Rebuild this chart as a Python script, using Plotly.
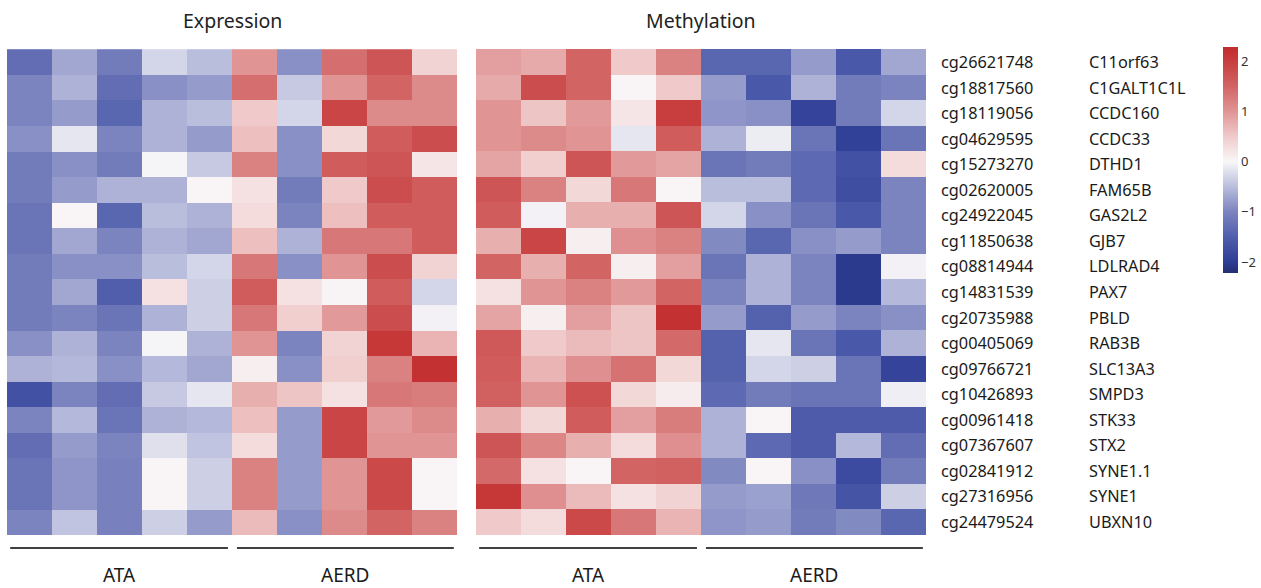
import plotly.graph_objects as go

samples = ["ATA1", "ATA2", "ATA3", "ATA4", "ATA5", "AERD1", "AERD2", "AERD3", "AERD4", "AERD5"]
probes = ["cg26621748", "cg18817560", "cg18119056", "cg04629595", "cg15273270", "cg02620005",
          "cg24922045", "cg11850638", "cg08814944", "cg14831539", "cg20735988", "cg00405069",
          "cg09766721", "cg10426893", "cg00961418", "cg07367607", "cg02841912", "cg27316956",
          "cg24479524"]
genes = ["C11orf63", "C1GALT1C1L", "CCDC160", "CCDC33", "DTHD1", "FAM65B", "GAS2L2", "GJB7",
         "LDLRAD4", "PAX7", "PBLD", "RAB3B", "SLC13A3", "SMPD3", "STK33", "STX2", "SYNE1.1",
         "SYNE1", "UBXN10"]

expression = [
    [-1.3, -0.7, -1.1, -0.3, -0.5, 1.0, -0.9, 1.4, 1.7, 0.4],
    [-1.0, -0.6, -1.3, -0.9, -0.8, 1.4, -0.4, 1.0, 1.5, 1.1],
    [-1.0, -0.8, -1.4, -0.6, -0.5, 0.5, -0.3, 1.9, 1.1, 1.1],
    [-0.9, -0.15, -1.0, -0.6, -0.8, 0.6, -0.9, 0.35, 1.6, 1.8],
    [-1.1, -0.9, -1.1, -0.03, -0.4, 1.2, -0.9, 1.6, 1.7, 0.2],
    [-1.1, -0.8, -0.6, -0.6, 0.02, 0.25, -1.1, 0.5, 1.8, 1.6],
    [-1.2, 0.02, -1.4, -0.5, -0.6, 0.3, -1.0, 0.6, 1.6, 1.6],
    [-1.2, -0.7, -1.0, -0.6, -0.7, 0.6, -0.6, 1.3, 1.3, 1.6],
    [-1.1, -0.9, -0.9, -0.5, -0.3, 1.3, -0.9, 1.0, 1.8, 0.4],
    [-1.1, -0.7, -1.5, 0.25, -0.35, 1.6, 0.25, 0.03, 1.6, -0.3],
    [-1.1, -1.0, -1.2, -0.6, -0.35, 1.3, 0.45, 0.95, 1.8, -0.05],
    [-0.9, -0.6, -1.0, -0.03, -0.6, 1.0, -1.0, 0.4, 2.1, 0.7],
    [-0.6, -0.55, -0.9, -0.55, -0.7, 0.1, -0.9, 0.45, 1.2, 2.2],
    [-1.7, -1.0, -1.3, -0.4, -0.15, 0.75, 0.55, 0.25, 1.3, 1.25],
    [-1.0, -0.55, -1.2, -0.6, -0.55, 0.6, -0.8, 1.9, 0.95, 1.1],
    [-1.3, -0.8, -1.0, -0.2, -0.45, 0.3, -0.8, 1.9, 1.0, 1.0],
    [-1.2, -0.85, -1.05, 0.02, -0.35, 1.2, -0.8, 1.0, 1.85, 0.02],
    [-1.2, -0.85, -1.05, 0.02, -0.35, 1.2, -0.8, 1.0, 1.85, 0.02],
    [-1.0, -0.45, -1.05, -0.35, -0.8, 0.65, -0.9, 1.1, 1.5, 1.2],
]

methylation = [
    [0.9, 0.8, 1.5, 0.5, 1.2, -1.4, -1.4, -0.8, -1.6, -0.7],
    [0.8, 1.8, 1.5, 0.02, 0.5, -0.8, -1.6, -0.6, -1.1, -1.0],
    [1.0, 0.55, 0.95, 0.2, 2.0, -0.85, -0.9, -1.9, -1.1, -0.3],
    [1.0, 1.1, 1.0, -0.15, 1.6, -0.6, -0.1, -1.2, -1.95, -1.2],
    [0.85, 0.45, 1.7, 0.95, 0.85, -1.2, -1.1, -1.35, -1.7, 0.3],
    [1.7, 1.2, 0.35, 1.3, 0.02, -0.5, -0.5, -1.35, -1.75, -1.0],
    [1.6, -0.05, 0.75, 0.75, 1.7, -0.3, -0.9, -1.2, -1.6, -1.0],
    [0.75, 1.9, 0.1, 1.05, 1.2, -0.95, -1.4, -0.9, -0.8, -1.0],
    [1.5, 0.75, 1.5, 0.1, 0.9, -1.2, -0.6, -1.0, -2.05, -0.05],
    [0.25, 1.0, 1.2, 0.95, 1.5, -1.0, -0.6, -1.0, -2.05, -0.55],
    [0.85, 0.1, 0.9, 0.55, 2.2, -0.8, -1.45, -0.8, -1.0, -0.9],
    [1.65, 0.5, 0.65, 0.55, 1.45, -1.45, -0.15, -1.2, -1.6, -0.6],
    [1.6, 0.7, 1.05, 1.35, 0.35, -1.45, -0.3, -0.35, -1.2, -1.9],
    [1.55, 1.0, 1.75, 0.35, 0.12, -1.35, -1.1, -1.2, -1.2, -0.08],
    [0.75, 0.35, 1.6, 0.9, 1.25, -0.6, 0.02, -1.55, -1.55, -1.55],
    [1.7, 1.15, 0.75, 0.3, 1.05, -0.6, -1.35, -1.55, -0.55, -1.3],
    [1.45, 0.25, 0.02, 1.5, 1.55, -0.95, 0.02, -0.9, -1.8, -1.1],
    [2.1, 1.05, 0.65, 0.25, 0.4, -0.8, -0.75, -1.15, -1.65, -0.35],
    [0.5, 0.3, 1.85, 1.3, 0.7, -0.85, -0.8, -1.1, -0.95, -1.4],
]

panel_titles = ["Expression", "Methylation"]
group_names = ["ATA", "AERD"]
cbar_ticks = [-2, -1, 0, 1, 2]
cbar_text = ["\u22122", "\u22121", "0", "1", "2"]

ZMIN, ZMAX = -2.22, 2.28

def pos(v):
    return (v - ZMIN) / (ZMAX - ZMIN)

colorscale = [
    [0.0, "rgb(36,46,114)"],
    [pos(-2.0), "rgb(46,62,150)"],
    [pos(-1.5), "rgb(80,94,172)"],
    [pos(-1.0), "rgb(124,132,191)"],
    [pos(-0.5), "rgb(186,190,221)"],
    [pos(0.0), "rgb(249,247,248)"],
    [pos(0.5), "rgb(240,202,202)"],
    [pos(1.0), "rgb(224,148,148)"],
    [pos(1.5), "rgb(210,100,100)"],
    [pos(2.0), "rgb(200,62,62)"],
    [1.0, "rgb(194,44,46)"],
]

fig = go.Figure()
fig.add_trace(go.Heatmap(z=expression, x=samples, y=genes, coloraxis="coloraxis",
                         xaxis="x", yaxis="y", xgap=0, ygap=0))
fig.add_trace(go.Heatmap(z=methylation, x=samples, y=genes, coloraxis="coloraxis",
                         xaxis="x2", yaxis="y2", xgap=0, ygap=0))

W, H = 1261, 588
y_dom = [1 - 535 / H, 1 - 49 / H]
ax_common = dict(showticklabels=False, showgrid=False, zeroline=False, ticks="", showline=False)
fig.update_layout(
    width=W, height=H,
    margin=dict(l=0, r=0, t=0, b=0),
    paper_bgcolor="white", plot_bgcolor="white",
    font=dict(family="Noto Sans, Open Sans, sans-serif", color="#222"),
    xaxis=dict(domain=[7 / W, 457 / W], **ax_common),
    xaxis2=dict(domain=[476 / W, 926 / W], anchor="y2", **ax_common),
    yaxis=dict(domain=y_dom, autorange="reversed", anchor="x", **ax_common),
    yaxis2=dict(domain=y_dom, autorange="reversed", anchor="x2", **ax_common),
    coloraxis=dict(
        cmin=ZMIN, cmax=ZMAX, colorscale=colorscale,
        colorbar=dict(
            x=1223 / W, xanchor="left", y=1 - 47 / H, yanchor="top",
            len=226, lenmode="pixels", thickness=15, thicknessmode="pixels",
            outlinewidth=0, ticks="", tickvals=cbar_ticks, ticktext=cbar_text,
            tickfont=dict(size=13, color="#333", family="Noto Sans, sans-serif"),
            ypad=0, xpad=0,
        ),
    ),
    showlegend=False,
)

annotations = []
for xr, title in zip(["x", "x2"], panel_titles):
    annotations.append(dict(text=title, xref=xr + " domain", x=0.5, yref="paper", y=1 - 21 / H,
                            showarrow=False, font=dict(size=19.5, color="#222"),
                            xanchor="center", yanchor="middle"))
for p, g in zip(probes, genes):
    annotations.append(dict(text=p, xref="paper", x=939 / W, yref="y", y=g, showarrow=False,
                            xanchor="left", yanchor="middle", font=dict(size=16.3, color="#1a1a1a")))
    annotations.append(dict(text=g, xref="paper", x=1087 / W, yref="y", y=g, showarrow=False,
                            xanchor="left", yanchor="middle", font=dict(size=16.3, color="#1a1a1a")))

shapes = []
spans = [(-0.43, 4.41), (4.61, 9.43)]
for xr in ["x", "x2"]:
    for (a, b), name in zip(spans, group_names):
        shapes.append(dict(type="line", xref=xr, yref="paper", x0=a, x1=b,
                           y0=1 - 548 / H, y1=1 - 548 / H, line=dict(color="#000", width=1.3)))
        annotations.append(dict(text=name, xref=xr, x=(a + b) / 2, yref="paper", y=1 - 575 / H,
                                showarrow=False, xanchor="center", yanchor="middle",
                                font=dict(size=19, color="#1a1a1a")))

fig.update_layout(annotations=annotations, shapes=shapes)
fig.write_html("out.html", config={"displayModeBar": False},
               post_script="document.body.style.margin='0px';document.body.style.padding='0px';")
